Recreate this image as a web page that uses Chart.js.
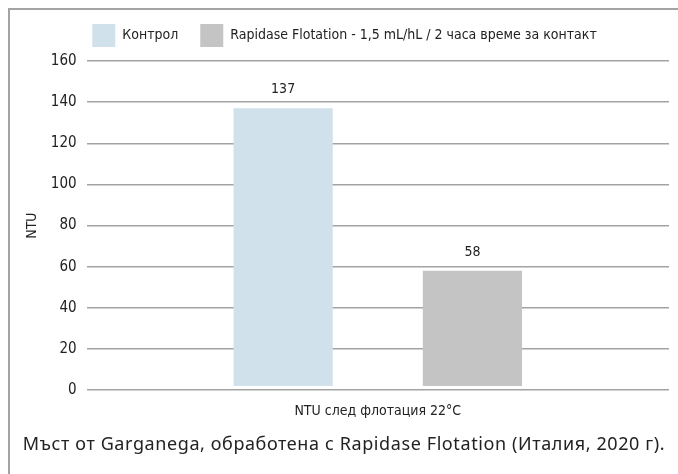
<!DOCTYPE html>
<html lang="bg">
  <head>
    <meta charset="UTF-8" />
    <title>NTU след флотация</title>
    <script src="https://cdn.jsdelivr.net/npm/chart.js"></script>
    <style>
      body { margin: 0; background: #fff; }
      #frame {
        position: absolute;
        left: 8px;
        top: 8px;
        width: 670px;
        height: 466px;
        border-top: 2px solid #a3a3a3;
        border-left: 2px solid #a3a3a3;
        box-sizing: border-box;
      }
      #frame canvas { display: block; }
      #caption {
        position: absolute;
        left: 0;
        top: 421px;
        width: 668px;
        text-align: center;
        font-family: "Noto Sans", sans-serif;
        font-size: 18px;
        letter-spacing: 0.6px;
        color: #222;
      }
    </style>
  </head>
  <body>
    <div id="frame">
      <canvas id="ntuChart" width="668" height="430"></canvas>
      <div id="caption">Мъст от Garganega, обработена с Rapidase Flotation (Италия, 2020 г).</div>
    </div>

    <script>
      // data
      const categories = ["NTU след флотация 22°C"];
      const seriesNames = ["Контрол", "Rapidase Flotation - 1,5 mL/hL / 2 часа време за контакт"];
      const controlValues = [137];
      const rapidaseValues = [58];
      const yTicks = [0, 20, 40, 60, 80, 100, 120, 140, 160];

      // condensed face: "condensed" goes into the font shorthand through weight
      const family = '"DejaVu Sans", sans-serif';
      const condFont = (size) => ({ family: family, size: size, weight: "condensed" });

      // value labels above bars
      const valueLabels = {
        id: "valueLabels",
        afterDatasetsDraw(chart) {
          const ctx = chart.ctx;
          ctx.save();
          ctx.font = "condensed 14px " + family;
          ctx.fillStyle = "#222";
          ctx.textAlign = "center";
          ctx.textBaseline = "bottom";
          chart.data.datasets.forEach((ds, i) => {
            chart.getDatasetMeta(i).data.forEach((bar, j) => {
              ctx.fillText(ds.data[j], bar.x, bar.y - 12);
            });
          });
          ctx.restore();
        },
      };

      // a bit more room under the legend
      const legendGap = {
        id: "legendGap",
        beforeInit(chart) {
          const fit = chart.legend.fit;
          chart.legend.fit = function () {
            fit.bind(chart.legend)();
            this.height += 4;
          };
        },
      };

      new Chart(document.getElementById("ntuChart"), {
        type: "bar",
        data: {
          labels: categories,
          datasets: [
            {
              label: seriesNames[0],
              data: controlValues,
              backgroundColor: "#d0e1eb",
            },
            {
              label: seriesNames[1],
              data: rapidaseValues,
              backgroundColor: "#c4c4c4",
            },
          ],
        },
        options: {
          responsive: false,
          animation: false,
          categoryPercentage: 0.65,
          barPercentage: 0.524,
          base: 2,
          layout: { padding: { top: -8, right: 9, bottom: 15, left: 10 } },
          plugins: {
            legend: {
              position: "top",
              labels: {
                boxWidth: 23,
                boxHeight: 23,
                padding: 22,
                color: "#222",
                font: condFont(14),
              },
            },
            tooltip: { enabled: false },
          },
          scales: {
            x: {
              grid: { display: false },
              border: { display: false },
              ticks: {
                color: "#222",
                padding: 5,
                font: condFont(14),
              },
            },
            y: {
              min: 0,
              max: 160,
              afterBuildTicks: (axis) => {
                axis.ticks = yTicks.map((v) => ({ value: v }));
              },
              grid: { color: "#a3a3a3", lineWidth: 1.5, drawTicks: false },
              border: { display: false },
              ticks: {
                color: "#222",
                padding: 10,
                font: condFont(15),
              },
              title: {
                display: true,
                text: "NTU",
                color: "#222",
                font: condFont(14),
                padding: { top: 4, bottom: 0 },
              },
            },
          },
        },
        plugins: [valueLabels, legendGap],
      });
    </script>
  </body>
</html>
